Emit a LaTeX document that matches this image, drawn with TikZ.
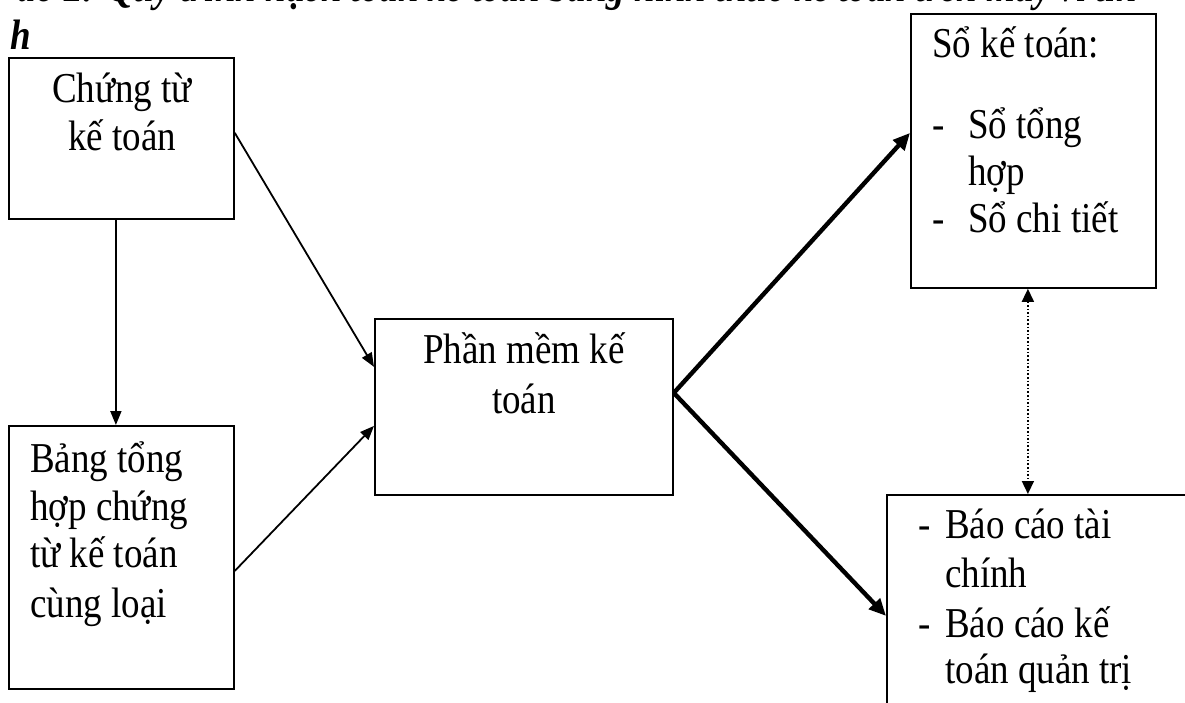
\documentclass[tikz,border=0pt]{standalone}
\usepackage{fontspec}
\setmainfont{Liberation Serif}
\usetikzlibrary{arrows.meta}
\newlength\headshift
\newcommand\bodyfont{\fontsize{37}{47}\selectfont}
\newcommand\headfont{\fontsize{37}{47}\selectfont\bfseries\itshape}
% text set slightly taller than wide
\newcommand\tall[1]{\scalebox{1}[1.15]{#1}}
\begin{document}
\settowidth{\headshift}{\headfont Sơ đồ 2: }
\begin{tikzpicture}[x=1pt,y=-1pt,
  box/.style={draw, line width=1.8pt, rectangle, inner sep=0pt, anchor=north west},
  txt/.style={inner sep=0pt, font=\bodyfont},
  thinarrow/.style={line width=1.8pt, -{Triangle[length=14pt,width=11pt]}},
  thickarrow/.style={line width=4.4pt, -{Triangle[length=17pt,width=15pt]}},
  dotarrow/.style={line width=1.6pt, dotted, {Triangle[length=13pt,width=12pt]}-{Triangle[length=13pt,width=12pt]}},
]
\useasboundingbox (0,0) rectangle (1185,702);
\clip (0,0) rectangle (1185,702);

% heading, cut by the top edge of the page
\node[inner sep=0pt, anchor=base west, font=\headfont, xshift={107pt-\headshift}] (head1) at (0,1)
  {\tall{Sơ đồ 2: Quy trình hạch toán kế toán bằng hình thức kế toán trên máy vi tín}};
\node[inner sep=0pt, anchor=base west, font=\headfont] (head2) at (10,49) {\tall{h}};

% boxes
\node[box, minimum width=225, minimum height=161] (ct) at (8,57) {};
\node[box, minimum width=225, minimum height=263] (bang) at (8,425) {};
\node[box, minimum width=298, minimum height=176] (pm) at (374,318) {};
\node[box, minimum width=245, minimum height=274] (so) at (910,13) {};
\node[box, minimum width=340, minimum height=240] (bc) at (886,494) {};

% box texts
\node[txt, anchor=base] (ct1) at (122,102) {\tall{Chứng từ}};
\node[txt, anchor=base] (ct2) at (122,150) {\tall{kế toán}};

\node[txt, anchor=base west] (bg1) at (30,472) {\tall{Bảng tổng}};
\node[txt, anchor=base west] (bg2) at (30,520) {\tall{hợp chứng}};
\node[txt, anchor=base west] (bg3) at (30,567) {\tall{từ kế toán}};
\node[txt, anchor=base west] (bg4) at (30,617) {\tall{cùng loại}};

\node[txt, anchor=base] (pm1) at (524,363) {\tall{Phần mềm kế}};
\node[txt, anchor=base] (pm2) at (524,413) {\tall{toán}};

\node[txt, anchor=base west] (so1) at (932,57) {\tall{Sổ kế toán:}};
\node[txt, anchor=base west] (so2d) at (932,138) {\tall{-}};
\node[txt, anchor=base west] (so2) at (968,138) {\tall{Sổ tổng}};
\node[txt, anchor=base west] (so3) at (968,185) {\tall{hợp}};
\node[txt, anchor=base west] (so4d) at (932,232) {\tall{-}};
\node[txt, anchor=base west] (so4) at (968,232) {\tall{Sổ chi tiết}};

\node[txt, anchor=base west] (bc1d) at (918,538) {\tall{-}};
\node[txt, anchor=base west] (bc1) at (945,538) {\tall{Báo cáo tài}};
\node[txt, anchor=base west] (bc2) at (945,587) {\tall{chính}};
\node[txt, anchor=base west] (bc3d) at (918,637) {\tall{-}};
\node[txt, anchor=base west] (bc3) at (945,637) {\tall{Báo cáo kế}};
\node[txt, anchor=base west] (bc4) at (945,683) {\tall{toán quản trị}};

% connectors
\draw[thinarrow] ([xshift=-5.5pt]ct.south) -- ([xshift=-5.5pt]bang.north);
\draw[thinarrow] ([yshift=5.5pt]ct.east) -- ([yshift=40pt]pm.west);
\draw[thinarrow] ([yshift=-13.5pt]bang.east) -- ([yshift=-19pt]pm.west);
\coordinate (split) at ([yshift=14pt]pm.east);
\draw[thickarrow] (split) -- ([yshift=18pt]so.west);
\draw[thickarrow] (split) -- ([yshift=-1pt]bc.west);
\draw[dotarrow] ([xshift=-5.5pt]so.south) -- ([xshift=-29pt]bc.north);
\end{tikzpicture}
\end{document}
